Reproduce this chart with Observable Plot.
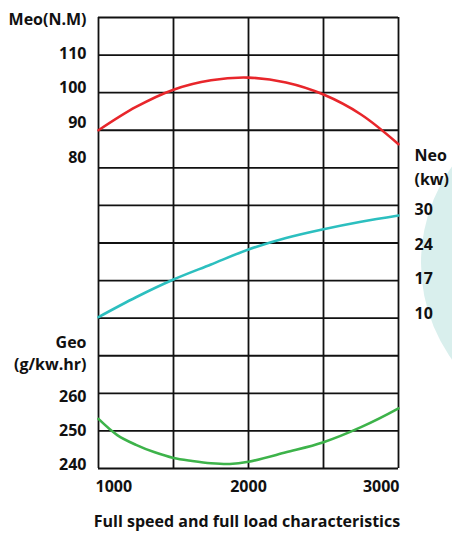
<!DOCTYPE html>
<html><head><meta charset="utf-8">
<script src="https://cdn.jsdelivr.net/npm/d3@7"></script>
<script src="https://cdn.jsdelivr.net/npm/@observablehq/plot@0.6"></script>
<style>
body{margin:0;background:#fff;font-family:"Open Sans",sans-serif;}
#wrap{position:relative;width:452px;height:533px;overflow:hidden;}
#blob{position:absolute;left:421px;top:97px;width:332px;height:332px;border-radius:50%;background:#d9efed;}
#chart{position:absolute;left:0;top:0;}
#title{position:absolute;left:0;width:494px;top:512px;text-align:center;font-weight:700;font-size:16px;line-height:18px;color:#111;}
</style></head>
<body>
<div id="wrap"><div id="blob"></div><div id="chart"></div><div id="title"></div></div>
<script>
// speed (rpm) for torque and power
const rpm = [1000, 1250, 1500, 1750, 2000, 2250, 2500, 2750, 3000];
// torque Meo (N.M)
const meo = [90, 96.2, 100.8, 103.3, 104, 102.7, 99.5, 94.2, 86.3];
// power Neo (kw)
const neo = [10.2, 13.9, 17.2, 20.0, 22.8, 24.8, 26.2, 27.4, 28.4];
// speed (rpm) for fuel consumption
const rpmGeo = [1000, 1125, 1250, 1375, 1500, 1625, 1750, 1875, 2000, 2250, 2500, 2750, 3000];
// fuel consumption Geo (g/kw.hr)
const geo = [253.2, 248.9, 246.3, 244.3, 242.8, 242.0, 241.4, 241.2, 241.8, 244.3, 247.0, 251.0, 256.0];

const xTicks = [1000, 2000, 3000];
const xGrid = [1000, 1500, 2000, 2500, 3000];
const meoTicks = [110, 100, 90, 80];
const neoTicks = [30, 24, 17, 10];
const geoTicks = [260, 250, 240];
const meoTitle = "Meo(N.M)";
const neoTitle = "Neo\n(kw)";
const geoTitle = "Geo\n(g/kw.hr)";
const caption = "Full speed and full load characteristics";

// map each quantity onto the shared 12-row grid
const rows = d3.range(0, 13);
const meoRow = v => 9 + (v - 90) / 10;
const neoRow = d3.scaleLinear().domain([10, 17, 24, 30]).range([4, 5, 6, 7]);
const geoRow = v => (v - 240) / 10;

const meoData = rpm.map((r, i) => ({rpm: r, row: meoRow(meo[i])}));
const neoData = rpm.map((r, i) => ({rpm: r, row: neoRow(neo[i])}));
const geoData = rpmGeo.map((r, i) => ({rpm: r, row: geoRow(geo[i])}));

const font = {fontSize: 16, fontWeight: 700, fill: "#111"};

const chart = Plot.plot({
  width: 452,
  height: 500,
  marginLeft: 98,
  marginRight: 54,
  marginTop: 17,
  marginBottom: 32,
  style: {fontFamily: "Open Sans, sans-serif", background: "transparent", overflow: "visible"},
  x: {domain: [1000, 3000], axis: null},
  y: {domain: [0, 12], axis: null},
  marks: [
    Plot.ruleY(rows, {stroke: "#111", strokeWidth: 1.8}),
    Plot.ruleX(xGrid, {stroke: "#111", strokeWidth: 1.8}),
    Plot.line(meoData, {x: "rpm", y: "row", stroke: "#e8262b", strokeWidth: 2.6, curve: "catmull-rom"}),
    Plot.line(neoData, {x: "rpm", y: "row", stroke: "#2cbfbf", strokeWidth: 2.6, curve: "catmull-rom"}),
    Plot.line(geoData, {x: "rpm", y: "row", stroke: "#3db34a", strokeWidth: 2.6, curve: "catmull-rom"}),
    // left Meo axis
    Plot.text(meoTicks, {x: () => 1000, y: v => meoRow(v) + 0.04 + (110 - v) * 0.0077, text: v => String(v), textAnchor: "end", dx: -12, ...font}),
    Plot.text([meoTitle], {x: () => 1000, y: () => 11.93, text: d => d, textAnchor: "end", dx: -12, ...font}),
    // right Neo axis
    Plot.text(neoTicks, {x: () => 3000, y: v => neoRow(v) + (5.5 - neoRow(v)) * 0.078, text: v => String(v), textAnchor: "start", dx: 16, ...font}),
    Plot.text([neoTitle], {x: () => 3000, y: () => 8.06, text: d => d, textAnchor: "start", dx: 16, lineHeight: 1.5, ...font}),
    // left Geo axis
    Plot.text(geoTicks, {x: () => 1000, y: v => geoRow(v) - (geoRow(v) - 1) * 0.09, text: v => String(v), textAnchor: "end", dx: -12, ...font}),
    Plot.text([geoTitle], {x: () => 1000, y: () => 3.11, text: d => d, textAnchor: "end", dx: -12, lineHeight: 1.4, ...font}),
    // x axis labels
    Plot.text(xTicks.filter(v => v === 1000), {x: v => v, y: () => 0, text: v => String(v), textAnchor: "start", dx: -3, dy: 18, ...font}),
    Plot.text(xTicks.filter(v => v === 2000), {x: v => v, y: () => 0, text: v => String(v), textAnchor: "middle", dy: 18, ...font}),
    Plot.text(xTicks.filter(v => v === 3000), {x: v => v, y: () => 0, text: v => String(v), textAnchor: "end", dx: 1, dy: 18, ...font})
  ]
});
document.getElementById("chart").appendChild(chart);
document.getElementById("title").textContent = caption;
</script>
</body></html>
